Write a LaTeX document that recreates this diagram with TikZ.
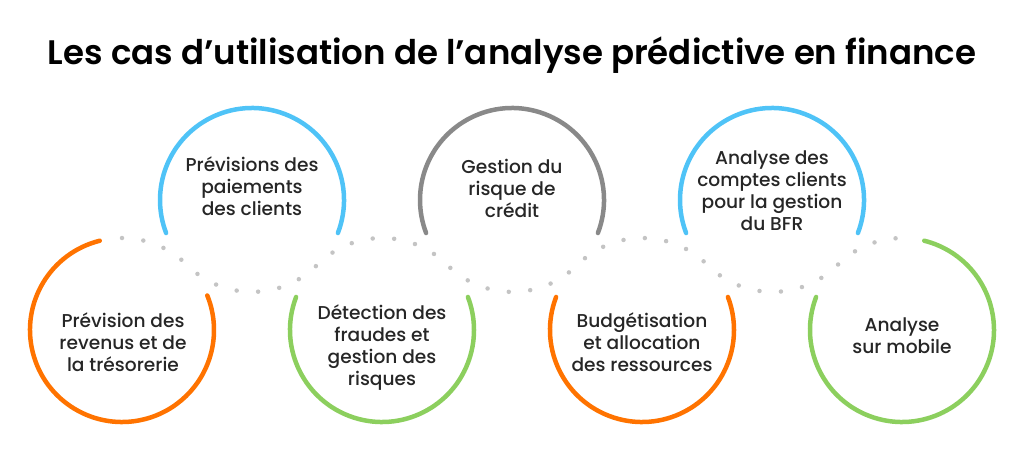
\documentclass[tikz,border=0pt]{standalone}
\usepackage{fontspec}
\setmainfont{Poppins}
\newfontfamily\casefont{Poppins Medium}
\newfontfamily\titlefont{Poppins SemiBold}
\usetikzlibrary{positioning}

\definecolor{ringorange}{HTML}{FF7300}
\definecolor{ringblue}{HTML}{4FC3F7}
\definecolor{ringgrey}{HTML}{898989}
\definecolor{ringgreen}{HTML}{8CCF5E}
\definecolor{dotgrey}{HTML}{C4C4C4}
\definecolor{casegrey}{HTML}{262626}

\begin{document}
\begin{tikzpicture}[x=1pt,y=1pt,
    ring/.style={line width=4.5pt,line cap=round},
    wave/.style={dotgrey,line width=4.5pt,line cap=round,dash pattern=on 0pt off 21.5pt},
    casetext/.style={font=\casefont\fontsize{18.6}{22}\selectfont,text=casegrey,align=center,inner sep=0pt}]

  \useasboundingbox (0,0) rectangle (1024,461);

  \node[font=\titlefont\fontsize{34}{38}\selectfont,anchor=base] (title) at (512,396)
    {Les cas d’utilisation de l’analyse prédictive en finance};

  % ring centres
  \coordinate (rev) at (122,131);
  \coordinate (pay) at (252,261);
  \coordinate (fraud) at (382,131);
  \coordinate (credit) at (512,261);
  \coordinate (budget) at (642,131);
  \coordinate (bfr) at (772,261);
  \coordinate (mobile) at (902,131);

  % dotted wave through the gaps
  \draw[wave] (rev) ++(90:92pt) arc[start angle=90,end angle=45,radius=92pt]
    arc[start angle=225,end angle=315,radius=92pt]
    arc[start angle=135,end angle=45,radius=92pt]
    arc[start angle=225,end angle=315,radius=92pt]
    arc[start angle=135,end angle=45,radius=92pt]
    arc[start angle=225,end angle=315,radius=92pt]
    arc[start angle=135,end angle=90,radius=92pt];

  \draw[ring,ringorange] (rev) ++(104:92pt) arc[start angle=104,end angle=382,radius=92pt];
  \draw[ring,ringblue] (pay) ++(-21:92pt) arc[start angle=-21,end angle=201,radius=92pt];
  \draw[ring,ringgreen] (fraud) ++(159:92pt) arc[start angle=159,end angle=381,radius=92pt];
  \draw[ring,ringgrey] (credit) ++(-21:92pt) arc[start angle=-21,end angle=201,radius=92pt];
  \draw[ring,ringorange] (budget) ++(159:92pt) arc[start angle=159,end angle=381,radius=92pt];
  \draw[ring,ringblue] (bfr) ++(-21:92pt) arc[start angle=-21,end angle=201,radius=92pt];
  \draw[ring,ringgreen] (mobile) ++(159:92pt) arc[start angle=159,end angle=436,radius=92pt];

  \node[casetext] (revtext) at (123,119) {Prévision des\\revenus et de\\la trésorerie};
  \node[casetext] (paytext) at (252,275) {Prévisions des\\paiements\\des clients};
  \node[casetext] (fraudtext) at (382,113) {Détection des\\fraudes et\\gestion des\\risques};
  \node[casetext] (credittext) at (512,273) {Gestion du\\risque de\\crédit};
  \node[casetext] (budgettext) at (642,119) {Budgétisation\\et allocation\\des ressources};
  \node[casetext] (bfrtext) at (772,270) {Analyse des\\comptes clients\\pour la gestion\\du BFR};
  \node[casetext] (mobiletext) at (902,125) {Analyse\\sur mobile};
\end{tikzpicture}
\end{document}
